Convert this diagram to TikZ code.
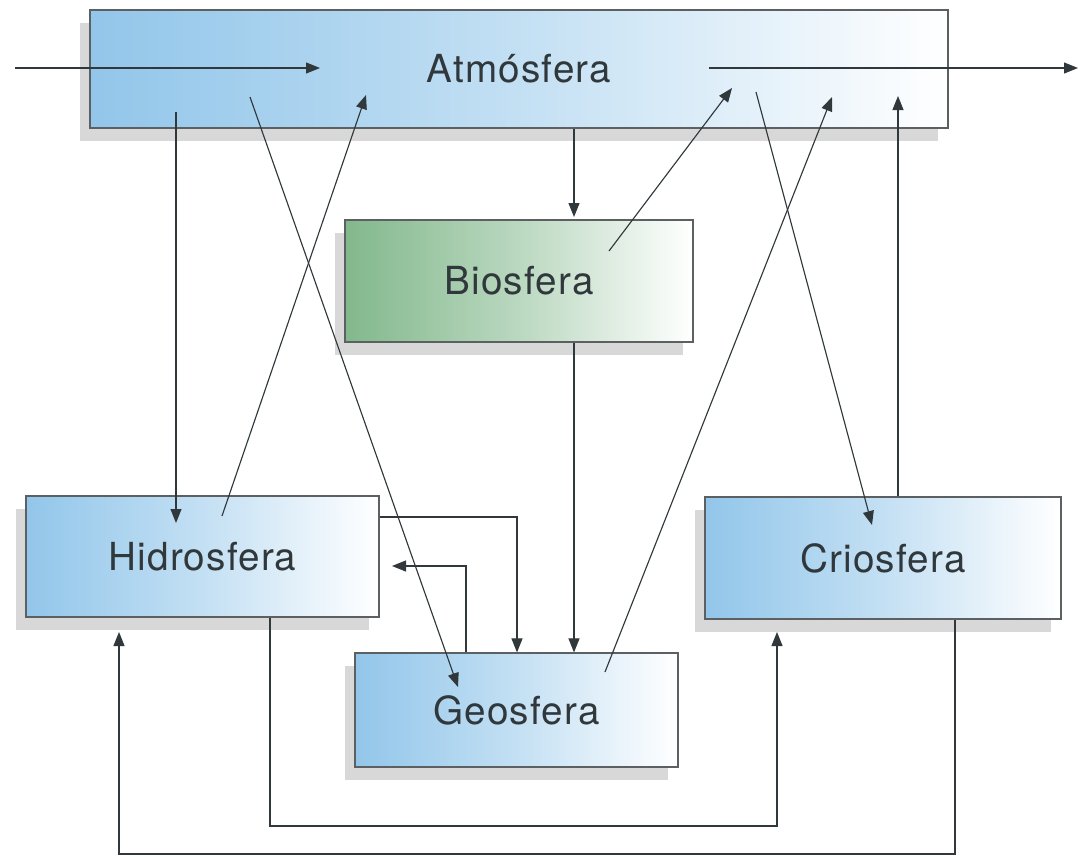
\documentclass[tikz,border=0pt]{standalone}
\usepackage{fontspec}
\setmainfont[LetterSpace=3]{TeX Gyre Heros}
\usetikzlibrary{arrows.meta,shadows}
\definecolor{skyL}{RGB}{146,198,234}
\definecolor{leafL}{RGB}{130,184,140}
\definecolor{inkG}{RGB}{48,56,60}
\definecolor{edgeG}{RGB}{92,96,98}
\tikzset{
  sphere/.style={draw=edgeG, line width=0.7pt, text=inkG, inner sep=0pt,
    font=\fontsize{22}{26}\selectfont,
    drop shadow={shadow xshift=-0.2cm, shadow yshift=-0.26cm, fill=black!30, opacity=0.5}},
  skybox/.style={sphere, left color=skyL, right color=white, middle color=skyL!55},
  leafbox/.style={sphere, left color=leafL, right color=white, middle color=leafL!55},
  flow/.style={draw=inkG, line width=0.65pt, -{Triangle[length=2.8mm,width=2.2mm]}},
}
\begin{document}
\begin{tikzpicture}[x=0.02cm, y=-0.02cm]
\useasboundingbox (0,0) rectangle (1086,856);

% Marking the five spheres
\node[skybox, minimum width=17.16cm, minimum height=2.36cm] (atm) at (519,69) {Atm\'osfera};
\node[leafbox, minimum width=6.96cm, minimum height=2.44cm] (bio) at (519,281) {Biosfera};
\node[skybox, minimum width=7.06cm, minimum height=2.42cm] (hid) at (202.5,556.5) {Hidrosfera};
\node[skybox, minimum width=7.12cm, minimum height=2.44cm] (cri) at (883,558) {Criosfera};
\node[skybox, minimum width=6.46cm, minimum height=2.28cm] (geo) at (516.5,710) {Geosfera};

% Free ends of the arrows
\coordinate (src) at (15,68);
\coordinate (atmL) at (320,68);
\coordinate (atmR) at (709,68);
\coordinate (sink) at (1078,68);
\coordinate (ah1) at (176,112);
\coordinate (ah2) at (176,523);
\coordinate (ha1) at (222,516);
\coordinate (ha2) at (366,95);
\coordinate (ag1) at (250,97);
\coordinate (ag2) at (458,687);
\coordinate (ab2) at (574,217);
\coordinate (ba1) at (609,251);
\coordinate (ba2) at (732,88);
\coordinate (ac1) at (756,92);
\coordinate (ac2) at (872,525);
\coordinate (ga1) at (605,672);
\coordinate (ga2) at (832,97);
\coordinate (ca2) at (898,96);
\coordinate (hg) at (517,517);
\coordinate (gh) at (466,566);
\coordinate (ghTip) at (392,566);
\coordinate (hc) at (270,826);
\coordinate (hcTip) at (777,632);
\coordinate (ch) at (955,854);
\coordinate (chTip) at (119,632);

% Drawing flow in and out of Atmosfera
\draw[flow] (src) -- (atmL);
\draw[flow] (atmR) -- (sink);

% Drawing arrows Atmosfera Hidrosfera
\draw[flow] (ah1) -- (ah2);
\draw[flow] (ha1) -- (ha2);

% Drawing arrow Atmosfera Geosfera
\draw[flow] (ag1) -- (ag2);

% Drawing arrows Atmosfera Biosfera
\draw[flow] (atm.south -| ab2) -- (ab2);
\draw[flow] (ba1) -- (ba2);

% Drawing arrows Atmosfera Criosfera
\draw[flow] (ac1) -- (ac2);
\draw[flow] (cri.north -| ca2) -- (ca2);

% Drawing arrow Geosfera Atmosfera
\draw[flow] (ga1) -- (ga2);

% Drawing arrow Biosfera Geosfera
\draw[flow] (bio.south -| ab2) -- (geo.north -| ab2);

% Drawing arrows Hidrosfera Geosfera
\draw[flow] (hid.east |- hg) -| (geo.north -| hg);
\draw[flow] (geo.north -| gh) |- (ghTip);

% Drawing arrows Hidrosfera Criosfera
\draw[flow] (hid.south -| hc) -- (hc) -| (hcTip);
\draw[flow] (cri.south -| ch) -- (ch) -| (chTip);
\end{tikzpicture}
\end{document}
